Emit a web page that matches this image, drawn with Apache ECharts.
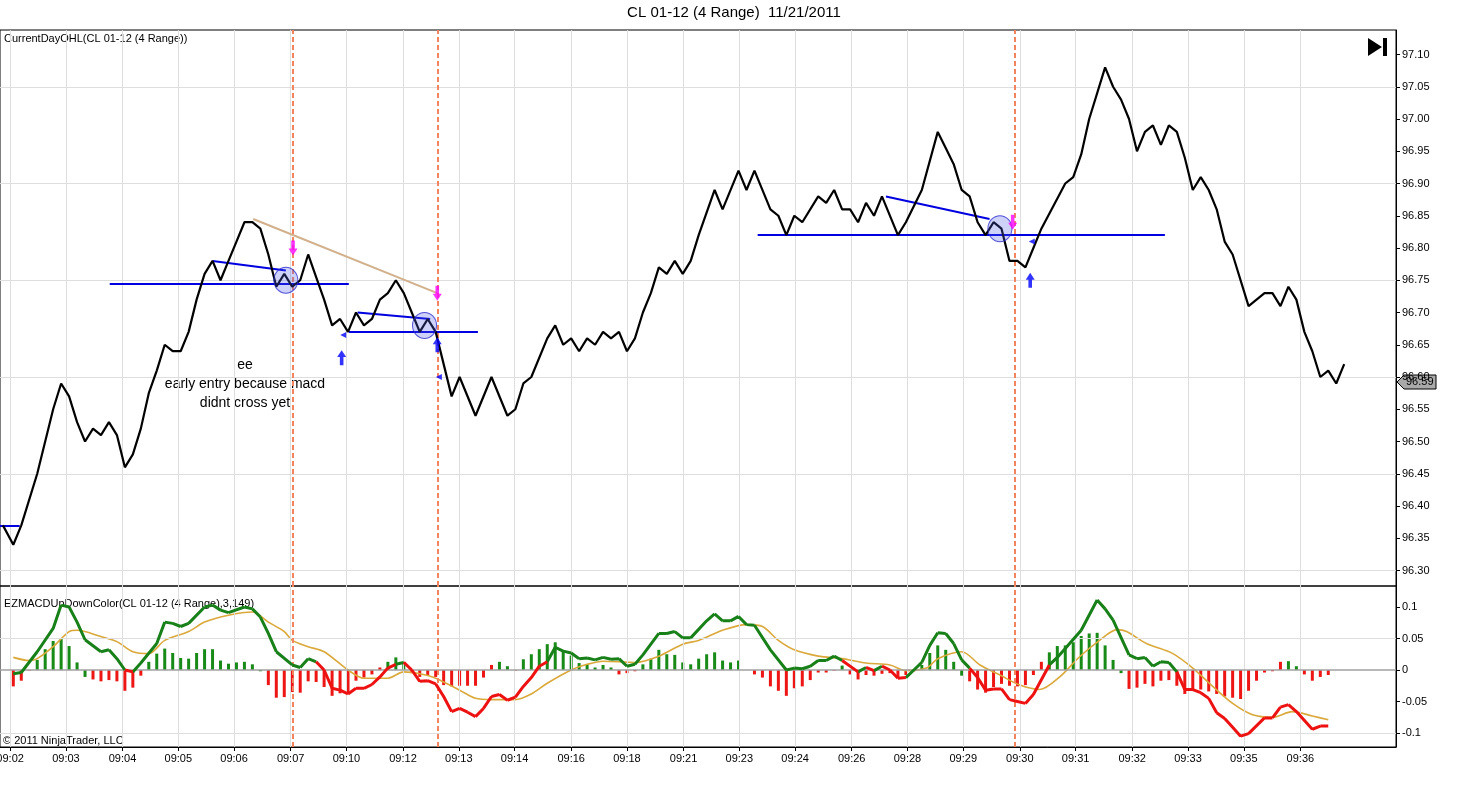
<!DOCTYPE html>
<html><head><meta charset="utf-8">
<script src="https://cdn.jsdelivr.net/npm/echarts@6/dist/echarts.min.js"></script>
<style>html,body{margin:0;padding:0;background:#fff}#c{width:1468px;height:793px}</style>
</head><body><div id="c"></div>
<script>
// ---- x axis: bar index; time labels at their bar positions
const timeLabels = ['09:02','09:03','09:04','09:05','09:06','09:07','09:10','09:12','09:13','09:14','09:16','09:18','09:21','09:23','09:24','09:26','09:28','09:29','09:30','09:31','09:32','09:33','09:35','09:36'];
const labelBars = [-0.4,6.6,13.7,20.7,27.7,34.8,41.8,48.9,55.9,62.9,70.0,77.0,84.1,91.1,98.1,105.2,112.2,119.2,126.3,133.3,140.4,147.4,154.4,161.5];
// ---- price line vertices
const priceBars = [-1.3,0,1,3,5,6,7,8,9,10,11,12,13,14,15,16,17,18,19,20,21,22,23,24,25,26,27,28,29,30,31,32,33,34,35,36,37,38,39,40,41,42,43,44,45,46,47,48,49,50,51,52,53,55,56,58,60,62,63,64,65,67,68,69,70,71,72,73,74,75,76,77,78,79,80,81,82,83,84,85,86,88,89,91,92,93,95,96,97,98,99,101,102,103,104,105,106,107,108,109,111,112,114,116,117,118,119,120,121,122,123,124,125,126,127,128,129,132,133,134,135,137,138,139,140,141,142,143,144,145,146,147,148,149,150,151,152,153,155,157,158,159,160,161,162,163,164,165,166,167];
const priceVals = [96.37,96.34,96.37,96.45,96.55,96.59,96.57,96.53,96.50,96.52,96.51,96.53,96.51,96.46,96.48,96.52,96.575,96.61,96.65,96.64,96.64,96.67,96.72,96.76,96.78,96.75,96.78,96.81,96.84,96.84,96.83,96.79,96.74,96.76,96.74,96.75,96.79,96.755,96.72,96.68,96.69,96.67,96.70,96.68,96.69,96.72,96.73,96.75,96.73,96.70,96.67,96.69,96.67,96.57,96.60,96.54,96.60,96.54,96.55,96.59,96.60,96.66,96.68,96.65,96.66,96.64,96.66,96.65,96.67,96.66,96.67,96.64,96.66,96.70,96.73,96.77,96.76,96.78,96.76,96.78,96.82,96.89,96.86,96.92,96.89,96.92,96.86,96.85,96.82,96.85,96.84,96.88,96.87,96.89,96.86,96.86,96.84,96.87,96.85,96.88,96.82,96.84,96.89,96.98,96.955,96.93,96.89,96.88,96.84,96.82,96.84,96.83,96.78,96.78,96.77,96.80,96.83,96.90,96.91,96.945,97.00,97.08,97.05,97.03,97.00,96.95,96.98,96.99,96.96,96.99,96.98,96.94,96.89,96.91,96.89,96.86,96.81,96.79,96.71,96.73,96.73,96.71,96.74,96.72,96.67,96.64,96.60,96.61,96.59,96.62];
const lastPrice = 96.59;
// ---- MACD histogram, one value per bar from bar 0
const histVals = [-0.026,-0.017,-0.001,0.016,0.033,0.046,0.050,0.038,0.012,-0.011,-0.015,-0.018,-0.016,-0.018,-0.033,-0.028,-0.009,0.013,0.026,0.034,0.027,0.019,0.018,0.027,0.033,0.033,0.015,0.010,0.012,0.013,0.009,-0.002,-0.024,-0.044,-0.043,-0.035,-0.036,-0.018,-0.019,-0.027,-0.041,-0.037,-0.035,-0.017,-0.012,-0.007,0.004,0.013,0.020,0.012,-0.005,-0.011,-0.008,-0.011,-0.024,-0.026,-0.025,-0.025,-0.025,
-0.012,0.008,0.013,0.006,-0.001,0.017,0.025,0.033,0.041,0.044,0.029,0.023,0.011,0.009,0.004,0.008,0.004,-0.007,-0.005,-0.002,0.009,0.018,0.032,0.025,0.024,0.012,0.009,0.018,0.025,0.028,0.015,0.012,0.015,0,-0.007,-0.012,-0.026,-0.033,-0.041,-0.029,-0.026,-0.016,-0.004,-0.004,-0.001,0.007,-0.007,-0.015,-0.008,-0.009,-0.006,-0.005,-0.013,-0.008,-0.002,0.008,0.027,0.039,0.032,
0.013,-0.009,-0.018,-0.031,-0.036,-0.027,-0.022,-0.025,-0.026,-0.024,-0.008,0.013,0.028,0.038,0.039,0.044,0.054,0.058,0.059,0.039,0.016,-0.005,-0.030,-0.028,-0.022,-0.026,-0.017,-0.016,-0.025,-0.038,-0.033,-0.031,-0.034,-0.038,-0.042,-0.044,-0.046,-0.033,-0.017,-0.004,-0.002,0.013,0.014,0.006,-0.007,-0.017,-0.011,-0.008];
// up (g) / down (r) colour runs for the histogram bars
const histRuns = [['r',3],['g',7],['r',7],['g',15],['r',15],['g',3],['r',9],['r',2],['g',2],['r',1],['g',12],['r',3],['g',14],['r',11],['g',1],['r',9],['g',4],['g',2],['r',10],['g',10],['r',20],['g',2],['r',4]];
// ---- MACD line vertices with colour runs (colour of segment ending at vertex)
const macdBars = [0,1,3,5,6,7,8,9,11,12,13,14,15,16,18,19,20,21,22,24,25,26,27,29,30,31,32,33,35,36,37,38,39,40,41,42,43,44,45,46,47,48,49,50,51,52,53,54,55,56,57,58,59,60,61,62,63,64,65,66,67,68,69,70,71,72,73,74,75,76,77,78,79,81,82,83,84,85,87,88,89,90,91,92,93,95,97,98,99,100,101,102,103,104,106,107,108,109,110,111,112,113,114,115,116,117,118,119,120,121,122,123,124,125,126,127,128,130,131,132,134,136,137,138,140,141,142,143,144,145,146,147,148,149,150,151,152,153,154,155,157,158,159,160,161,163,164,165];
const macdVals = [-0.006,-0.004,0.029,0.066,0.103,0.100,0.076,0.048,0.029,0.032,0.018,0,-0.003,0.011,0.042,0.076,0.074,0.069,0.074,0.100,0.103,0.095,0.091,0.100,0.097,0.084,0.058,0.029,0.008,0.004,0.018,0.013,0,-0.029,-0.032,-0.038,-0.029,-0.029,-0.023,-0.011,0.003,0.009,0.012,0,-0.018,-0.017,-0.022,-0.042,-0.066,-0.061,-0.067,-0.074,-0.061,-0.042,-0.039,-0.048,-0.043,-0.026,-0.012,0.006,0.013,0.036,0.030,0.027,0.018,0.019,0.016,0.020,0.017,0.018,0.006,0.009,0.024,0.058,0.058,0.061,0.051,0.051,0.078,0.089,0.078,0.078,0.085,0.072,0.071,0.032,0,0.003,0.002,0.006,0.015,0.015,0.022,0.015,-0.003,0.004,-0.001,0.006,0,-0.013,-0.012,0,0.012,0.039,0.059,0.058,0.042,0.016,0.003,-0.012,-0.032,-0.030,-0.030,-0.047,-0.050,-0.053,-0.039,0.008,0.020,0.034,0.063,0.111,0.097,0.079,0.024,0.018,0.020,0.006,0.013,0.012,-0.003,-0.031,-0.031,-0.036,-0.045,-0.068,-0.077,-0.091,-0.105,-0.101,-0.076,-0.076,-0.059,-0.055,-0.066,-0.094,-0.089,-0.089];
const macdRuns = [['r',1],['g',11],['r',1],['g',19],['r',10],['g',1],['r',18],['g',33],['r',1],['g',1],['r',1],['g',1],['r',3],['g',8],['r',9],['g',13],['r',17]];
// ---- signal line vertices
const sigBars = [0,2,3,5,7,8,11,13,15,17,19,22,24,27,30,32,34,35,37,39,42,44,47,49,51,53,56,58,60,63,65,67,70,72,74,78,81,84,86,89,92,94,96,98,101,104,107,110,112,114.6,116,119,121.3,123.8,126.3,128.8,131.3,133.8,136.3,138.5,139.7,142.2,145.5,148,150.5,153,155.5,158,160.5,163,165];
const sigVals = [0.020,0.015,0.018,0.037,0.061,0.063,0.053,0.045,0.029,0.026,0.047,0.061,0.076,0.087,0.092,0.076,0.061,0.047,0.037,0.029,0,-0.013,-0.013,-0.003,-0.006,-0.013,-0.032,-0.045,-0.047,-0.047,-0.038,-0.021,0,0.009,0.014,0.012,0.022,0.041,0.047,0.063,0.072,0.069,0.047,0.032,0.022,0.018,0.011,0.008,-0.001,0.003,0.018,0.029,0.008,-0.008,-0.024,-0.031,-0.011,0.021,0.047,0.064,0.061,0.042,0.026,0.003,-0.026,-0.053,-0.071,-0.075,-0.066,-0.073,-0.079];
// ---- chart drawings
const signalBars = [35.1,53.2,125.6];
const hLines = [[-1.67,0.8,96.37],[12.1,42.1,96.745],[42.1,58.3,96.67],[93.4,144.5,96.82]];
const slopeLines = [[25.0,96.78,34.2,96.765],[43.2,96.70,52.3,96.69],[109.5,96.88,122.5,96.845]];
const trendLine = [30.1,96.845,53.2,96.73];
const circles = [[34.2,96.75],[51.6,96.68],[123.8,96.83]];
const sellArrows = [[35.1,96.80],[53.2,96.73],[125.4,96.84]];
const buyArrows = [[41.2,96.63],[53.2,96.65],[127.6,96.75]];
const exitMarks = [[41.4,96.665],[53.4,96.60],[127.8,96.81]];
const priceTicks = [96.30,96.35,96.40,96.45,96.50,96.55,96.60,96.65,96.70,96.75,96.80,96.85,96.90,96.95,97.00,97.05,97.10];
const priceGrid = [96.30,96.45,96.60,96.75,96.90,97.05];
const macdTicks = [-0.1,-0.05,0,0.05,0.1];
const macdGrid = [-0.1,0.05];

function expand(runs){return runs.map(r=>r[0].repeat(r[1])).join('');}
const histDir = expand(histRuns);
const macdDir = expand(macdRuns);

const XMIN=-1.67, XMAX=173.5;
const chart = echarts.init(document.getElementById('c'));
const font='Arial, "Liberation Sans", sans-serif';
const gridCol='#dedede';
function vGrid(ymin,ymax){return labelBars.map(b=>[{coord:[b,ymin]},{coord:[b,ymax]}]);}
function hGrid(vals){return vals.map(v=>[{coord:[XMIN,v]},{coord:[XMAX,v]}]);}
function segs(dir){
  const out=[];
  for(let k=1;k<macdBars.length;k++){
    if(macdDir[k]===dir){out.push([macdBars[k-1],macdVals[k-1]],[macdBars[k],macdVals[k]],[macdBars[k],'-']);}
  }
  return out;
}
const arrow='path://M3,0 L7,0 L7,7 L10,7 L5,13 L0,7 L3,7 Z';
const PMIN=96.276,PMAX=97.138,MMIN=-0.1222,MMAX=0.1333;
chart.setOption({
  animation:false,
  grid:[{left:0,right:72,top:30,height:556,show:true,borderColor:'#000',borderWidth:1,containLabel:false,outerBoundsMode:'none'},
        {left:0,right:72,top:586,height:161,show:true,borderColor:'#000',borderWidth:1,containLabel:false,outerBoundsMode:'none'}],
  xAxis:[{gridIndex:0,type:'value',min:XMIN,max:XMAX,splitLine:{show:false},axisTick:{show:false},axisLabel:{show:false},axisLine:{show:false,onZero:false}},
         {gridIndex:1,type:'value',min:XMIN,max:XMAX,splitLine:{show:false},
           axisLine:{show:true,onZero:false,lineStyle:{color:'#000'}},
           axisTick:{show:true,customValues:labelBars,length:4,lineStyle:{color:'#000'}},
           axisLabel:{show:true,customValues:labelBars,hideOverlap:false,formatter:(v)=>{const i=labelBars.findIndex(b=>Math.abs(b-v)<1e-6);return i>=0?timeLabels[i]:'';},color:'#000',fontSize:11,fontFamily:font,margin:6}}],
  yAxis:[{gridIndex:0,type:'value',position:'right',min:PMIN,max:PMAX,splitLine:{show:false},
          axisLine:{show:true,onZero:false,lineStyle:{color:'#000'}},axisTick:{show:true,customValues:priceTicks,length:4,lineStyle:{color:'#000'}},
          axisLabel:{customValues:priceTicks,formatter:v=>v.toFixed(2),color:'#000',fontSize:11,fontFamily:font,margin:6}},
         {gridIndex:1,type:'value',position:'right',min:MMIN,max:MMAX,splitLine:{show:false},
          axisLine:{show:true,onZero:false,lineStyle:{color:'#000'}},axisTick:{show:true,customValues:macdTicks,length:4,lineStyle:{color:'#000'}},
          axisLabel:{customValues:macdTicks,formatter:v=>String(Math.round(v*100)/100),color:'#000',fontSize:11,fontFamily:font,margin:6}}],
  series:[
    {type:'line',xAxisIndex:0,yAxisIndex:0,data:[],silent:true,
     markLine:{silent:true,symbol:'none',label:{show:false},lineStyle:{color:gridCol,type:'solid',width:1},
       data:vGrid(PMIN,PMAX).concat(hGrid(priceGrid))}},
    {type:'line',xAxisIndex:1,yAxisIndex:1,data:[],silent:true,
     markLine:{silent:true,symbol:'none',label:{show:false},lineStyle:{color:gridCol,type:'solid',width:1},
       data:vGrid(MMIN,MMAX).concat(hGrid(macdGrid))
         .concat([[{coord:[XMIN,0],lineStyle:{color:'#a0a0a0',width:1.5}},{coord:[XMAX,0]}]])}},
    {type:'line',xAxisIndex:0,yAxisIndex:0,data:[],silent:true,
     markLine:{silent:true,symbol:'none',label:{show:false},lineStyle:{color:'#f4845f',type:[5,3],width:2},
       data:signalBars.map(b=>[{coord:[b,PMIN]},{coord:[b,PMAX]}])}},
    {type:'line',xAxisIndex:1,yAxisIndex:1,data:[],silent:true,
     markLine:{silent:true,symbol:'none',label:{show:false},lineStyle:{color:'#f4845f',type:[5,3],width:2},
       data:signalBars.map(b=>[{coord:[b,MMIN]},{coord:[b,MMAX]}])}},
    {type:'line',xAxisIndex:0,yAxisIndex:0,data:[],silent:true,z:4,
     markLine:{silent:true,symbol:'none',label:{show:false},lineStyle:{color:'#0000e0',type:'solid',width:2},
       data:hLines.map(h=>[{coord:[h[0],h[2]]},{coord:[h[1],h[2]]}])
         .concat(slopeLines.map(s=>[{coord:[s[0],s[1]]},{coord:[s[2],s[3]]}]))
         .concat([[{coord:[trendLine[0],trendLine[1]],lineStyle:{color:'#d2b08c',width:2}},{coord:[trendLine[2],trendLine[3]]}]])}},
    {type:'line',xAxisIndex:0,yAxisIndex:0,data:priceBars.map((b,i)=>[b,priceVals[i]]),symbol:'none',
     lineStyle:{color:'#000',width:2.2},z:5,silent:true},
    {type:'scatter',xAxisIndex:0,yAxisIndex:0,data:circles,symbol:'circle',symbolSize:[24,26],z:6,silent:true,
     itemStyle:{color:'rgba(80,90,230,0.35)',borderColor:'#2a2ad0',borderWidth:1}},
    {type:'scatter',xAxisIndex:0,yAxisIndex:0,data:sellArrows,symbol:arrow,symbolSize:[9,15],z:7,silent:true,itemStyle:{color:'#ff00ff'}},
    {type:'scatter',xAxisIndex:0,yAxisIndex:0,data:buyArrows,symbol:arrow,symbolRotate:180,symbolSize:[9,15],z:7,silent:true,itemStyle:{color:'#0000ff'}},
    {type:'scatter',xAxisIndex:0,yAxisIndex:0,data:exitMarks,symbol:'triangle',symbolRotate:90,symbolSize:[6,6],z:7,silent:true,itemStyle:{color:'#0000ff'}},
    {type:'custom',xAxisIndex:1,yAxisIndex:1,silent:true,z:3,
     data:histVals.map((v,i)=>[i,v]),
     renderItem:(params,api)=>{
       const i=api.value(0), v=api.value(1);
       const p0=api.coord([i,0]), p1=api.coord([i,v]);
       return {type:'rect',shape:{x:p0[0]-1.5,y:Math.min(p0[1],p1[1]),width:3,height:Math.abs(p1[1]-p0[1])},
               style:{fill:histDir[i]==='g'?'#178a17':'#ee1515'}};
     }},
    {type:'line',xAxisIndex:1,yAxisIndex:1,data:sigBars.map((b,i)=>[b,sigVals[i]]),symbol:'none',smooth:0.3,
     lineStyle:{color:'#dba83a',width:1.6},z:4,silent:true},
    {type:'line',xAxisIndex:1,yAxisIndex:1,data:segs('g'),symbol:'none',connectNulls:false,lineStyle:{color:'#188018',width:3},z:5,silent:true},
    {type:'line',xAxisIndex:1,yAxisIndex:1,data:segs('r'),symbol:'none',connectNulls:false,lineStyle:{color:'#ee1111',width:3},z:5,silent:true}
  ],
  graphic:[
    {type:'text',left:'center',top:5,style:{text:'CL 01-12 (4 Range)  11/21/2011',font:'15px '+font,fill:'#000'}},
    {type:'text',left:4,top:33,style:{text:'CurrentDayOHL(CL 01-12 (4 Range))',font:'11px '+font,fill:'#000'}},
    {type:'text',left:4,top:598,style:{text:'EZMACDUpDownColor(CL 01-12 (4 Range),3,149)',font:'11px '+font,fill:'#000'}},
    {type:'text',left:3,top:735,style:{text:'© 2011 NinjaTrader, LLC',font:'11px '+font,fill:'#000'}},
    {type:'text',x:245,y:356,style:{text:'ee\nearly entry because macd\ndidnt cross yet',align:'center',font:'14px '+font,lineHeight:19,fill:'#000'}},
    {type:'polygon',shape:{points:[[1368,38],[1382,47],[1368,56]]},style:{fill:'#000'}},
    {type:'rect',shape:{x:1383,y:38,width:4,height:18},style:{fill:'#000'}},
    {type:'polygon',shape:{points:[[1397,382],[1404,375],[1436,375],[1436,389],[1404,389]]},style:{fill:'#a9a9a9',stroke:'#000',lineWidth:1}},
    {type:'text',x:1406,y:376,style:{text:String(lastPrice),font:'11px '+font,fill:'#000'}}
  ]
});
</script></body></html>
